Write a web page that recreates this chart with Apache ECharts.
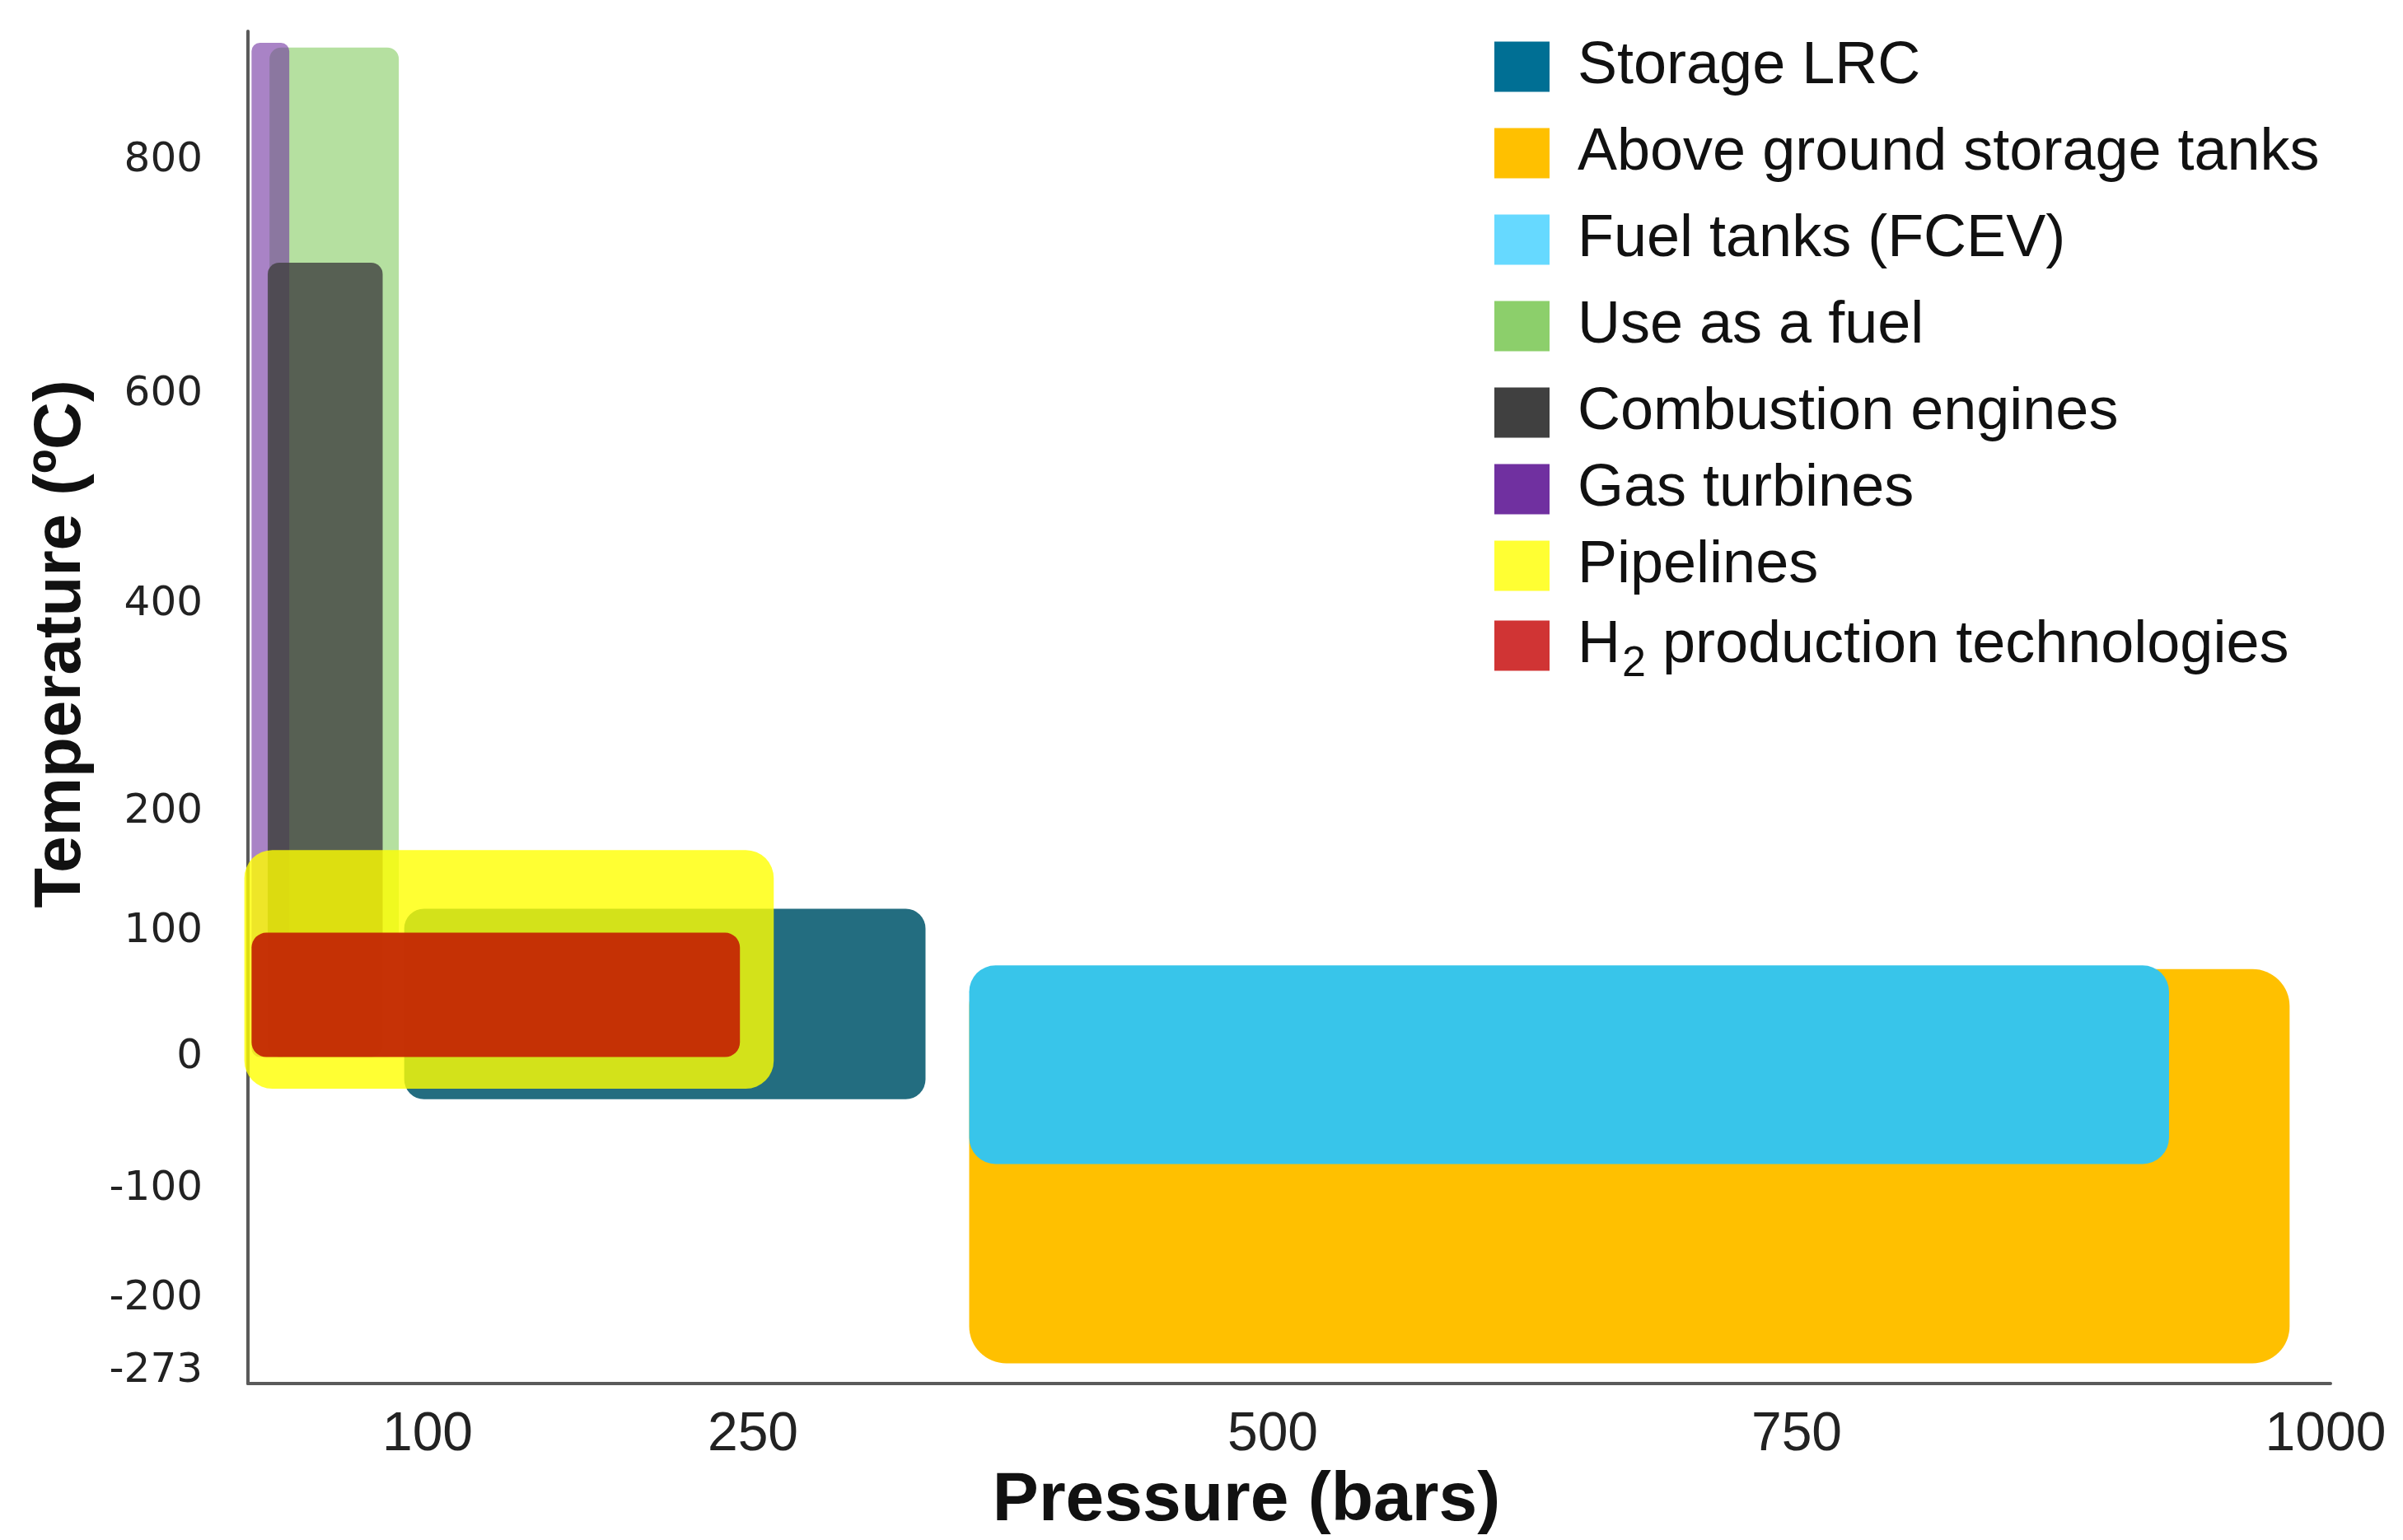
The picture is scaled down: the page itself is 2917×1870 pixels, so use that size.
<!DOCTYPE html>
<html><head><meta charset="utf-8">
<script src="https://cdn.jsdelivr.net/npm/echarts@6/dist/echarts.min.js"></script>
<style>html,body{margin:0;padding:0;background:#fff}#c{width:2917px;height:1870px}</style>
</head><body><div id="c"></div>
<script>
// ---- data (legend order) ----
const categories = ['Storage LRC','Above ground storage tanks','Fuel tanks (FCEV)','Use as a fuel','Combustion engines','Gas turbines','Pipelines','H2 production technologies'];
const pressureMin = [87, 354, 354, 12, 11, 2, -2, 2];      // bars
const pressureMax = [333, 983, 926, 84, 75, 23, 260, 244]; // bars
const tempMin = [-32, -265, -81, 0, 0, 0, -24, 0];         // ºC
const tempMax = [119, 70, 73, 897, 713, 901, 168, 99];      // ºC
const xTickValues = [100, 250, 500, 750, 1000];
const yTickValues = [800, 600, 400, 200, 100, 0, -100, -200, -273];

// ---- styles ----
const legendColors = ['#006f94','#ffc000','#66d9ff','#8ccf6b','#404040','#7030a0','#ffff33','#d03434'];
const fillColors   = ['#236d80','#ffc000','#38c5ea','#8dcf6d','#404040','#7030a0','#ffff00','#c42b05'];
const fillOpacity  = [1, 1, 1, 0.65, 0.8, 0.6, 0.8, 0.97];
const cornerRadius = [24, 45, 32, 14, 14, 10, 34, 18];
const drawOrder = [1, 2, 0, 3, 5, 4, 6, 7];

// ---- non-linear axis scales (value -> axis units) ----
const xScaleStops = [[0,0],[100,218],[250,613],[500,1244],[750,1880],[1000,2522]];
const yScaleStops = [[-273,15],[-200,103],[-100,237],[0,398],[100,551],[200,697],[400,949],[600,1205],[800,1490]];
function piecewise(stops, v) {
  let i = 0;
  while (i < stops.length - 2 && v > stops[i + 1][0]) i++;
  const a = stops[i], b = stops[i + 1];
  return a[1] + (v - a[0]) * (b[1] - a[1]) / (b[0] - a[0]);
}
const tx = v => piecewise(xScaleStops, v);
const ty = v => piecewise(yScaleStops, v);
function labelFor(ticks, fn, v) {
  let best = ticks[0], d = Infinity;
  ticks.forEach(t => { const dd = Math.abs(fn(t) - v); if (dd < d) { d = dd; best = t; } });
  return String(best);
}

const chart = echarts.init(document.getElementById('c'), null, {renderer: 'canvas'});

const series = drawOrder.map(i => ({
  type: 'custom',
  name: categories[i],
  clip: false,
  itemStyle: {color: legendColors[i]},
  encode: {x: [0, 1], y: [2, 3]},
  data: [[pressureMin[i], pressureMax[i], tempMin[i], tempMax[i]]],
  renderItem: (params, api) => {
    const p0 = api.coord([tx(api.value(0)), ty(api.value(3))]);
    const p1 = api.coord([tx(api.value(1)), ty(api.value(2))]);
    return {
      type: 'rect',
      shape: {x: p0[0], y: p0[1], width: p1[0] - p0[0], height: p1[1] - p0[1], r: cornerRadius[i]},
      style: {fill: fillColors[i], opacity: fillOpacity[i]}
    };
  }
}));

const legendFont = "'Liberation Sans', Arial, sans-serif";
function legendBlock(idx, top, gap) {
  return {
    orient: 'vertical', left: 1809, top: top,
    itemWidth: 67, itemHeight: 61, itemGap: gap, icon: 'rect',
    formatter: name => name.indexOf('H2 ') === 0
      ? '{t|H}{s|2}{t|' + name.slice(2) + '}'
      : '{t|' + name + '}',
    textStyle: {
      fontFamily: legendFont, fontSize: 72, lineHeight: 72, color: '#111', padding: [0, 0, 0, 29],
      rich: {
        t: {fontFamily: legendFont, fontSize: 72, lineHeight: 72, color: '#111'},
        s: {fontFamily: legendFont, fontSize: 52, lineHeight: 52, color: '#111', padding: [46, 0, 0, 2]}
      }
    },
    data: idx.map(i => ({name: categories[i], itemStyle: {color: legendColors[i], opacity: 1}}))
  };
}

chart.setOption({
  animation: false,
  backgroundColor: '#fff',
  grid: {left: 301, right: 88, top: 38, bottom: 184, containLabel: false},
  xAxis: {
    type: 'value', min: 0, max: 2528,
    name: 'Pressure (bars)', nameLocation: 'middle', nameGap: 98,
    nameTextStyle: {fontFamily: legendFont, fontWeight: 'bold', fontSize: 84, color: '#111', padding: [0, 104, 0, 0]},
    axisLine: {show: true, onZero: false, lineStyle: {color: '#5a5a5a', width: 4}},
    axisTick: {show: false},
    splitLine: {show: false},
    axisLabel: {
      customValues: xTickValues.map(tx),
      formatter: v => labelFor(xTickValues, tx, v),
      fontFamily: "'Liberation Sans Narrow', 'Liberation Sans', Arial, sans-serif", fontSize: 66, color: '#222', margin: 30
    }
  },
  yAxis: {
    type: 'value', min: 0, max: 1648,
    name: 'Temperature (\u00baC)', nameLocation: 'middle', nameGap: 186, nameRotate: 90,
    nameTextStyle: {fontFamily: legendFont, fontWeight: 'bold', fontSize: 80, color: '#111', padding: [0, 0, 0, 154]},
    axisLine: {show: true, onZero: false, lineStyle: {color: '#5a5a5a', width: 4}},
    axisTick: {show: false},
    splitLine: {show: false},
    axisLabel: {
      customValues: yTickValues.map(ty),
      formatter: v => labelFor(yTickValues, ty, v),
      fontFamily: "'DejaVu Sans', sans-serif", fontSize: 50, color: '#222', margin: 55
    }
  },
  legend: [
    legendBlock([0, 1, 2, 3], 40, 33),
    legendBlock([4, 5, 6], 460, 21),
    legendBlock([7], 730, 10)
  ],
  series: series
});
</script></body></html>
